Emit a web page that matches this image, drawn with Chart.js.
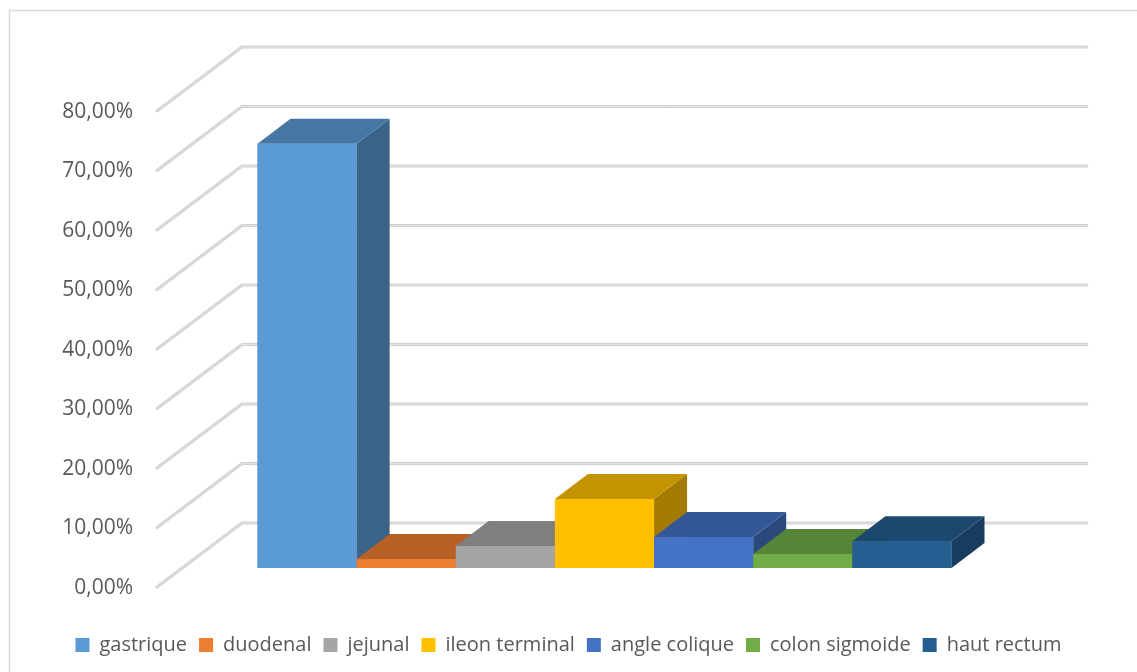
<!DOCTYPE html>
<html>
<head>
<meta charset="utf-8">
<script src="https://cdn.jsdelivr.net/npm/chart.js@4.4.1/dist/chart.umd.min.js"></script>
<style>
  html, body { margin: 0; background: #fff; }
  canvas { display: block; }
</style>
</head>
<body>
<canvas id="chart" width="1137" height="672"></canvas>
<script>
// Data
const categories = ['gastrique', 'duodenal', 'jejunal', 'ileon terminal', 'angle colique', 'colon sigmoide', 'haut rectum'];
const values = [71.3, 1.5, 3.7, 11.6, 5.2, 2.35, 4.5];
const colors = ['#5B9BD5', '#ED7D31', '#A5A5A5', '#FFC000', '#4472C4', '#70AD47', '#255E91'];
const yTicks = [0, 10, 20, 30, 40, 50, 60, 70, 80];

// 3D look (pixel offsets from the plane of the bar fronts)
const BAR_DEPTH = { dx: 33, dy: -25 };
const WALL = { dx: 60, dy: -45 };
const FLOOR_FRONT = { dx: -25, dy: 19 };

function shade(hex, f){
    const n = parseInt(hex.slice(1), 16);
    const r = Math.round(((n >> 16) & 255) * f);
    const g = Math.round(((n >> 8) & 255) * f);
    const b = Math.round((n & 255) * f);
    return 'rgb(' + r + ',' + g + ',' + b + ')';
}

function poly(ctx, pts, fill){
    ctx.beginPath();
    ctx.moveTo(pts[0][0], pts[0][1]);
    for(let i = 1; i < pts.length; i++) ctx.lineTo(pts[i][0], pts[i][1]);
    ctx.closePath();
    ctx.fillStyle = fill;
    ctx.fill();
}

const box3d = {
    id: 'box3d',
    beforeDraw(chart){
        // outer chart frame (only left and top edges are inside the picture)
        const ctx = chart.ctx;
        ctx.save();
        ctx.strokeStyle = '#d9d9d9';
        ctx.lineWidth = 1.5;
        ctx.strokeRect(9.5, 10.5, 1400, 900);
        ctx.restore();
    },
    beforeDatasetsDraw(chart){
        const ctx = chart.ctx, a = chart.chartArea, ys = chart.scales.y;
        ctx.save();
        ctx.lineJoin = 'round';
        ctx.lineCap = 'round';
        yTicks.forEach(v => {
            const py = ys.getPixelForValue(v);
            const path = () => {
                ctx.beginPath();
                ctx.moveTo(a.left + FLOOR_FRONT.dx, py + FLOOR_FRONT.dy);
                ctx.lineTo(a.left + WALL.dx, py + WALL.dy);
                ctx.lineTo(a.right + WALL.dx, py + WALL.dy);
            };
            path(); ctx.strokeStyle = '#d0d0d0'; ctx.lineWidth = 3; ctx.stroke();
            path(); ctx.strokeStyle = '#e4e4e4'; ctx.lineWidth = 1; ctx.stroke();
        });
        ctx.restore();
    },
    afterDatasetsDraw(chart){
        const ctx = chart.ctx;
        ctx.save();
        chart.data.datasets.forEach((ds, i) => {
            const bar = chart.getDatasetMeta(i).data[0];
            if(!bar) return;
            const p = bar.getProps(['x', 'y', 'base', 'width'], true);
            const l = p.x - p.width / 2, r = p.x + p.width / 2;
            const dx = BAR_DEPTH.dx, dy = BAR_DEPTH.dy;
            const c = colors[i];
            poly(ctx, [[r, p.base], [r, p.y], [r + dx, p.y + dy], [r + dx, p.base + dy]], shade(c, 0.64));
            poly(ctx, [[l, p.y], [r, p.y], [r + dx, p.y + dy], [l + dx, p.y + dy]], shade(c, 0.77));
            ctx.fillStyle = c;
            ctx.fillRect(l, p.y, p.width, p.base - p.y);
        });
        ctx.restore();
    }
};

new Chart(document.getElementById('chart'), {
    type: 'bar',
    data: {
        labels: [''],
        datasets: categories.map((name, i) => ({
            label: name,
            data: [values[i]],
            backgroundColor: colors[i],
            borderWidth: 0,
            categoryPercentage: 0.8213,
            barPercentage: 1
        }))
    },
    options: {
        responsive: false,
        animation: false,
        layout: { padding: { top: 92, left: 0, right: 0, bottom: 7 } },
        plugins: {
            legend: {
                position: 'bottom',
                labels: {
                    boxWidth: 14,
                    boxHeight: 14,
                    padding: 12,
                    color: '#595959',
                    font: { family: 'Open Sans', size: 20 }
                }
            },
            tooltip: { enabled: false }
        },
        scales: {
            x: {
                grid: { display: false, drawTicks: false },
                border: { display: false },
                ticks: { display: false },
                afterFit(s){ s.height = 55; }
            },
            y: {
                min: 0,
                max: 80,
                afterBuildTicks(s){ s.ticks = yTicks.map(v => ({ value: v })); },
                grid: { display: false, drawTicks: false },
                border: { display: false },
                ticks: {
                    padding: 49,
                    labelOffset: 20,
                    color: '#595959',
                    font: { family: 'Open Sans', size: 21 },
                    callback: v => v.toFixed(2).replace('.', ',') + '%'
                },
                afterFit(s){ s.width = 182; }
            },
            yR: {
                position: 'right',
                grid: { display: false, drawTicks: false },
                border: { display: false },
                ticks: { display: false },
                afterFit(s){ s.width = 110; }
            }
        }
    },
    plugins: [box3d]
});
</script>
</body>
</html>
